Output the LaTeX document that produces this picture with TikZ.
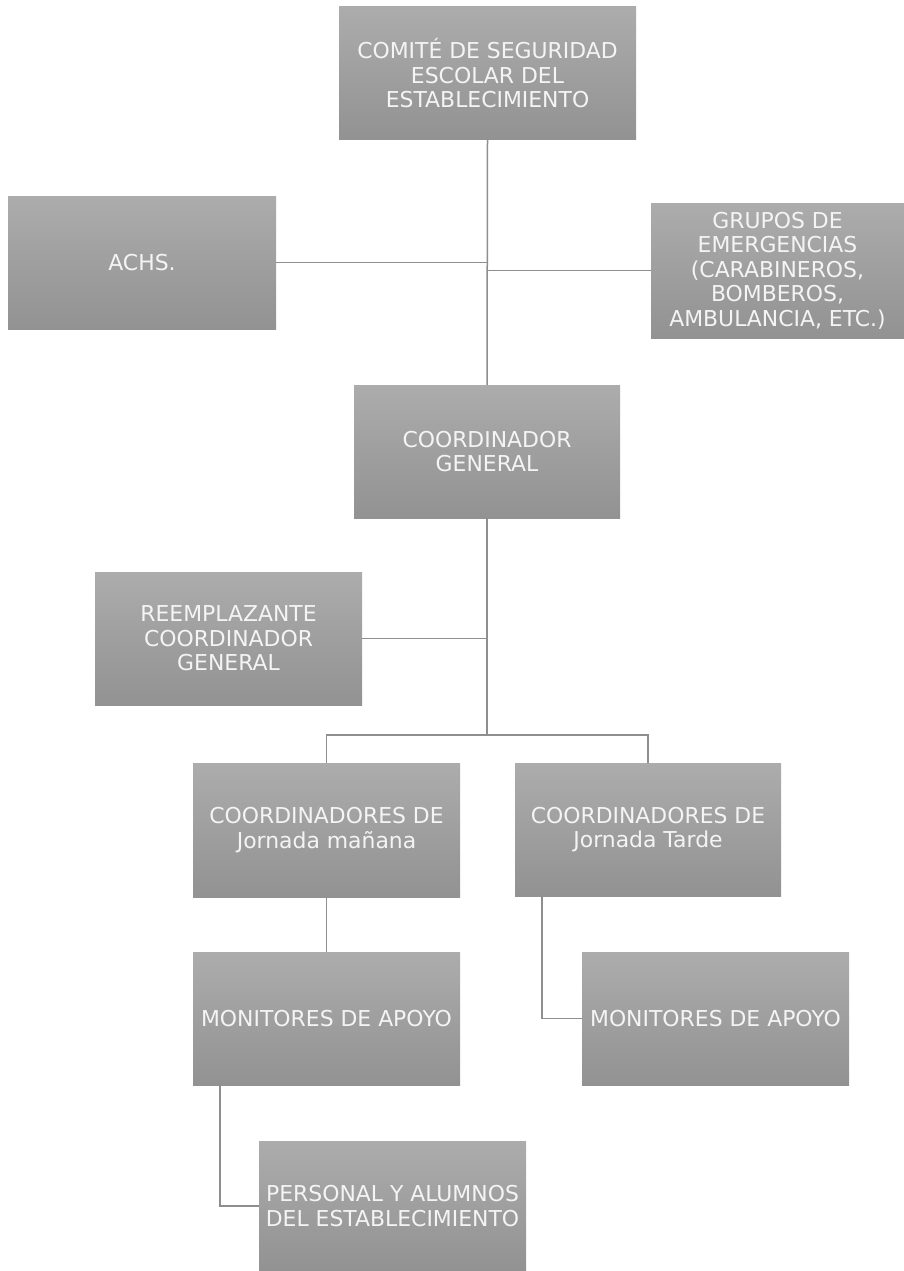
\documentclass[tikz,border=0pt]{standalone}
\usepackage{fontspec}
\setmainfont{DejaVu Sans}
\begin{document}
\begin{tikzpicture}[x=1pt,y=-1pt,
  box/.style={rectangle, inner sep=0pt, top color=boxtop, bottom color=boxbot,
    draw=none, text=boxtext, align=center,
    font=\fontsize{21.9}{24.5}\selectfont},
  link/.style={draw=linkc, line width=1.5pt}]
\definecolor{boxtop}{HTML}{ACACAC}
\definecolor{boxbot}{HTML}{929292}
\definecolor{boxtext}{HTML}{F4F4F4}
\definecolor{linkc}{HTML}{8E8E8E}
\useasboundingbox (0,0) rectangle (904,1271);

\node[box, minimum width=297pt, minimum height=133pt] (comite) at (487.5,73.5)
  {COMITÉ DE SEGURIDAD\\ESCOLAR DEL\\ESTABLECIMIENTO};
\node[box, minimum width=268pt, minimum height=133pt] (achs) at (142,262.5) {ACHS.};
\node[box, minimum width=253pt, minimum height=135pt] (grupos) at (777.5,270.5)
  {GRUPOS DE\\EMERGENCIAS\\(CARABINEROS,\\BOMBEROS,\\AMBULANCIA, ETC.)};
\node[box, minimum width=266pt, minimum height=133pt] (coord) at (487,451.5)
  {COORDINADOR\\GENERAL};
\node[box, minimum width=267pt, minimum height=133pt] (reemp) at (228.5,638.5)
  {REEMPLAZANTE\\COORDINADOR\\GENERAL};
\node[box, minimum width=267pt, minimum height=134pt] (manana) at (326.5,830)
  {COORDINADORES DE\\Jornada mañana};
\node[box, minimum width=266pt, minimum height=133pt] (tarde) at (648,829.5)
  {COORDINADORES DE\\Jornada Tarde};
\node[box, minimum width=267pt, minimum height=133pt] (mon1) at (326.5,1018.5)
  {MONITORES DE APOYO};
\node[box, minimum width=267pt, minimum height=133pt] (mon2) at (715.5,1018.5)
  {MONITORES DE APOYO};
\node[box, minimum width=267pt, minimum height=130pt] (pers) at (392.5,1206)
  {PERSONAL Y ALUMNOS\\DEL ESTABLECIMIENTO};

\coordinate (split) at (487,735);

\draw[link] (comite.south) -- (coord.north);
\draw[link] (achs.east) -- (achs.east -| comite.south);
\draw[link] (grupos.west) -- (grupos.west -| comite.south);
\draw[link] (coord.south) -- (split);
\draw[link] (reemp.east) -- (reemp.east -| coord.south);
\draw[link] (manana.north) |- (split) -| (tarde.north);
\draw[link] (manana.south) -- (mon1.north);
\draw[link] ([xshift=27pt]tarde.south west) |- (mon2.west);
\draw[link] ([xshift=27pt]mon1.south west) |- (pers.west);
\end{tikzpicture}
\end{document}
